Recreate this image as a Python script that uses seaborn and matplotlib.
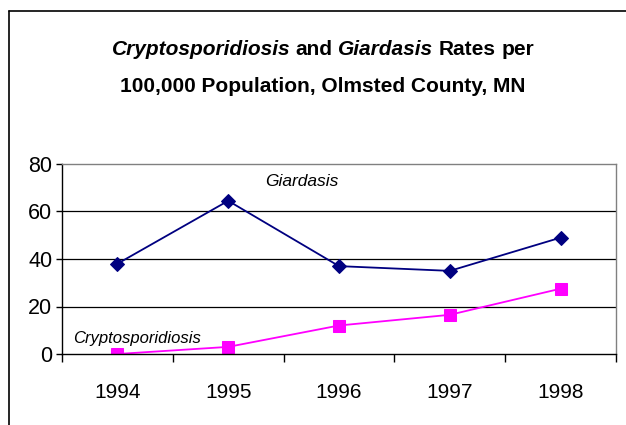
import numpy as np
import pandas as pd
import seaborn as sns
import matplotlib
matplotlib.use('Agg')
import matplotlib.pyplot as plt
from matplotlib.lines import Line2D

sns.set_style('white')
plt.rcParams['font.family'] = ['Liberation Sans', 'DejaVu Sans']
plt.rcParams['text.color'] = 'black'
plt.rcParams['xtick.color'] = 'black'
plt.rcParams['ytick.color'] = 'black'

years = ['1994', '1995', '1996', '1997', '1998']
giardiasis = [38, 64.5, 37, 35, 49]
crypto = [0, 3, 12, 16.5, 27.5]
yticks = [0, 20, 40, 60, 80]

df = pd.DataFrame({'pos': np.arange(len(years)), 'year': years,
                   'Giardasis': giardiasis, 'Cryptosporidiosis': crypto})

fig = plt.figure(figsize=(6.26, 4.25), dpi=100)
ax = fig.add_axes([62 / 626, 1 - 354 / 425, 554 / 626, 190 / 425])

sns.lineplot(data=df, x='pos', y='Giardasis', ax=ax, color='#000080', marker='D',
             markersize=7, markeredgecolor='#000080', linewidth=1.3)
sns.lineplot(data=df, x='pos', y='Cryptosporidiosis', ax=ax, color='#FF00FF', marker='s',
             markersize=8, markeredgecolor='#FF00FF', linewidth=1.3)

ax.set_xlim(-0.5, len(years) - 0.5)
ax.set_ylim(0, 80)
ax.set_yticks(yticks)
ax.set_yticklabels([str(v) for v in yticks], fontsize=15.5)
ax.set_xticks(df['pos'])
ax.set_xticklabels(years, fontsize=15)
ax.set_xticks(np.arange(len(years) + 1) - 0.5, minor=True)
ax.tick_params(axis='x', which='major', length=0, pad=21)
ax.tick_params(axis='x', which='minor', length=6, width=1, color='black', direction='out', bottom=True)
ax.tick_params(axis='y', length=4, width=1, color='black', direction='out', left=True, pad=3)
ax.set_xlabel('')
ax.set_ylabel('')

for v in yticks[1:-1]:
    ax.axhline(v, color='black', linewidth=0.9, zorder=0)

for side in ['top', 'right']:
    ax.spines[side].set_color('#808080')
    ax.spines[side].set_linewidth(1)
for side in ['left', 'bottom']:
    ax.spines[side].set_color('black')
    ax.spines[side].set_linewidth(1)

ax.text(1.33, 72.8, 'Giardasis', fontsize=12.5, style='italic', va='center', ha='left')
ax.text(-0.40, 6.7, 'Cryptosporidiosis', fontsize=12, style='italic', va='center', ha='left')

# title line 1 has italic words, so lay the pieces out by hand on one baseline
tkw = dict(fontsize=15, fontweight='bold', va='baseline', ha='left')
pieces = [('Cryptosporidiosis', 'italic'), ('and', 'normal'),
          ('Giardasis', 'italic'), ('Rates', 'normal'), ('per', 'normal')]
y1 = 1 - 55 / 425
texts = [fig.text(0, y1, t, style=s, **tkw) for t, s in pieces]
fig.text(323 / 626, 1 - 92 / 425, '100,000 Population, Olmsted County, MN',
         fontsize=15, fontweight='bold', va='baseline', ha='center')

fig.canvas.draw()
r = fig.canvas.get_renderer()
widths = [t.get_window_extent(r).width for t in texts]
gap = 5.5
total = sum(widths) + gap * (len(widths) - 1)
x = 323 - total / 2
for t, w in zip(texts, widths):
    t.set_x(x / fig.bbox.width)
    x += w + gap

fig.add_artist(Line2D([9 / 626, 1.0], [1 - 11 / 425] * 2, transform=fig.transFigure, color='black', linewidth=1.2))
fig.add_artist(Line2D([9 / 626] * 2, [0, 1 - 11 / 425], transform=fig.transFigure, color='black', linewidth=1.2))

fig.savefig('out.png', dpi=100)
